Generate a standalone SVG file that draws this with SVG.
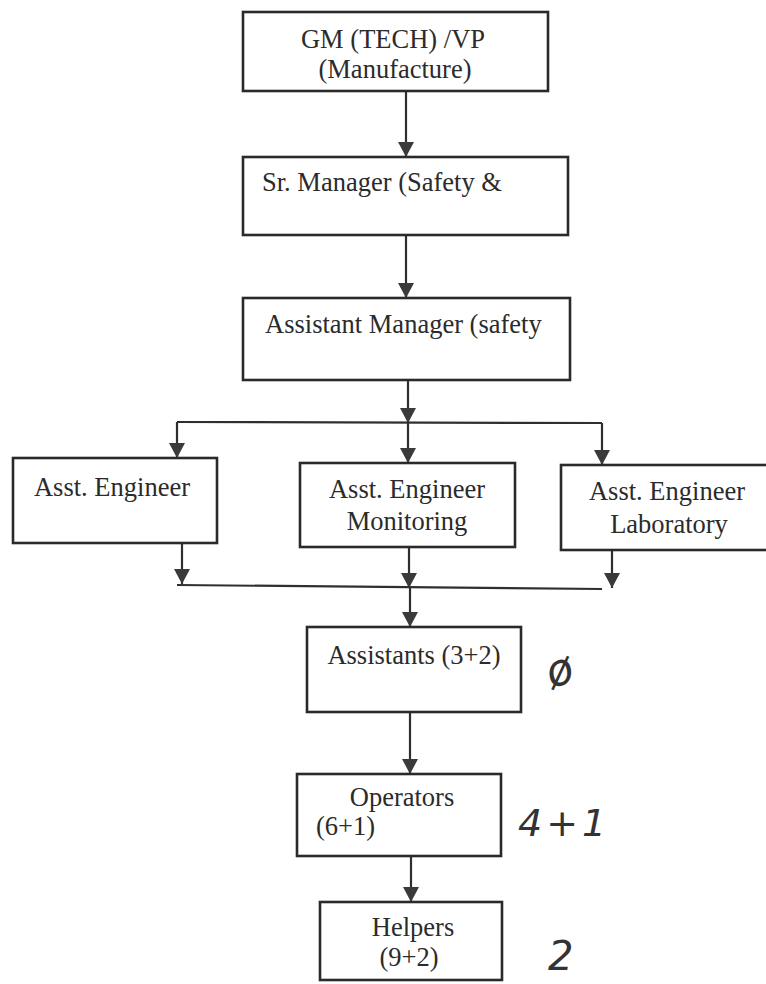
<svg xmlns="http://www.w3.org/2000/svg" width="766" height="984" viewBox="0 0 766 984">
  <defs>
    <marker id="arrow" viewBox="0 0 15 16" refX="15" refY="8" markerWidth="15" markerHeight="16" markerUnits="userSpaceOnUse" orient="auto">
      <path d="M0,0 L15,8 L0,16 z" fill="#3a3a3a"/>
    </marker>
    <style>
      .box { fill: #ffffff; stroke: #2a2a2a; stroke-width: 2.6; }
      .lbl { font-family: "Liberation Serif", "Times New Roman", serif; font-size: 26.5px; fill: #2b2b2b; }
      .mid { text-anchor: middle; }
      .wire { fill: none; stroke: #2f2f2f; stroke-width: 2.2; }
      .hand { font-family: "DejaVu Sans", sans-serif; font-style: oblique; fill: #333333; }
    </style>
  </defs>
  <rect width="766" height="984" fill="#ffffff"/>

  <!-- reporting lines -->
  <g id="connectors">
    <path class="wire" d="M406,91 V157" marker-end="url(#arrow)"/>
    <path class="wire" d="M406,235 V298" marker-end="url(#arrow)"/>
    <path class="wire" d="M408,380 V423" marker-end="url(#arrow)"/>
    <path class="wire" d="M177,422 L602,423"/>
    <path class="wire" d="M177,422 V458" marker-end="url(#arrow)"/>
    <path class="wire" d="M408,423 V463" marker-end="url(#arrow)"/>
    <path class="wire" d="M602,423 V465" marker-end="url(#arrow)"/>
    <path class="wire" d="M182,543 V584" marker-end="url(#arrow)"/>
    <path class="wire" d="M409,547 V588" marker-end="url(#arrow)"/>
    <path class="wire" d="M612,550 V588" marker-end="url(#arrow)"/>
    <path class="wire" d="M177,585 L602,589"/>
    <path class="wire" d="M410,588 V627" marker-end="url(#arrow)"/>
    <path class="wire" d="M410,712 V774" marker-end="url(#arrow)"/>
    <path class="wire" d="M411,856 V902" marker-end="url(#arrow)"/>
  </g>

  <g id="gm-tech">
    <rect class="box" x="243" y="12" width="305" height="79"/>
    <text class="lbl mid" x="393" y="48">GM (TECH) /VP</text>
    <text class="lbl mid" x="395" y="78">(Manufacture)</text>
  </g>

  <g id="sr-manager">
    <rect class="box" x="243" y="157" width="325" height="78"/>
    <text class="lbl" x="262" y="191">Sr. Manager (Safety &amp;</text>
  </g>

  <g id="asst-manager">
    <rect class="box" x="243" y="298" width="327" height="82"/>
    <text class="lbl" x="265" y="333">Assistant Manager (safety</text>
  </g>

  <g id="asst-engineer">
    <rect class="box" x="13" y="458" width="204" height="85"/>
    <text class="lbl mid" x="112" y="496">Asst. Engineer</text>
  </g>

  <g id="asst-engineer-monitoring">
    <rect class="box" x="300" y="463" width="215" height="84"/>
    <text class="lbl mid" x="407" y="498">Asst. Engineer</text>
    <text class="lbl mid" x="407" y="530">Monitoring</text>
  </g>

  <g id="asst-engineer-laboratory">
    <rect class="box" x="561" y="465" width="210" height="85"/>
    <text class="lbl mid" x="667" y="500">Asst. Engineer</text>
    <text class="lbl mid" x="669" y="533">Laboratory</text>
  </g>

  <g id="assistants">
    <rect class="box" x="307" y="627" width="214" height="85"/>
    <text class="lbl mid" x="414" y="664">Assistants (3+2)</text>
    <text class="hand" x="546" y="684" font-size="44" transform="rotate(-20 562 670)">ø</text>
  </g>

  <g id="operators">
    <rect class="box" x="297" y="774" width="204" height="82"/>
    <text class="lbl mid" x="402" y="806">Operators</text>
    <text class="lbl" x="316" y="835">(6+1)</text>
    <text class="hand" x="518" y="836" font-size="38" letter-spacing="4">4+1</text>
  </g>

  <g id="helpers">
    <rect class="box" x="320" y="902" width="182" height="78"/>
    <text class="lbl mid" x="413" y="936">Helpers</text>
    <text class="lbl mid" x="409" y="966">(9+2)</text>
    <text class="hand" x="548" y="970" font-size="40">2</text>
  </g>
</svg>
